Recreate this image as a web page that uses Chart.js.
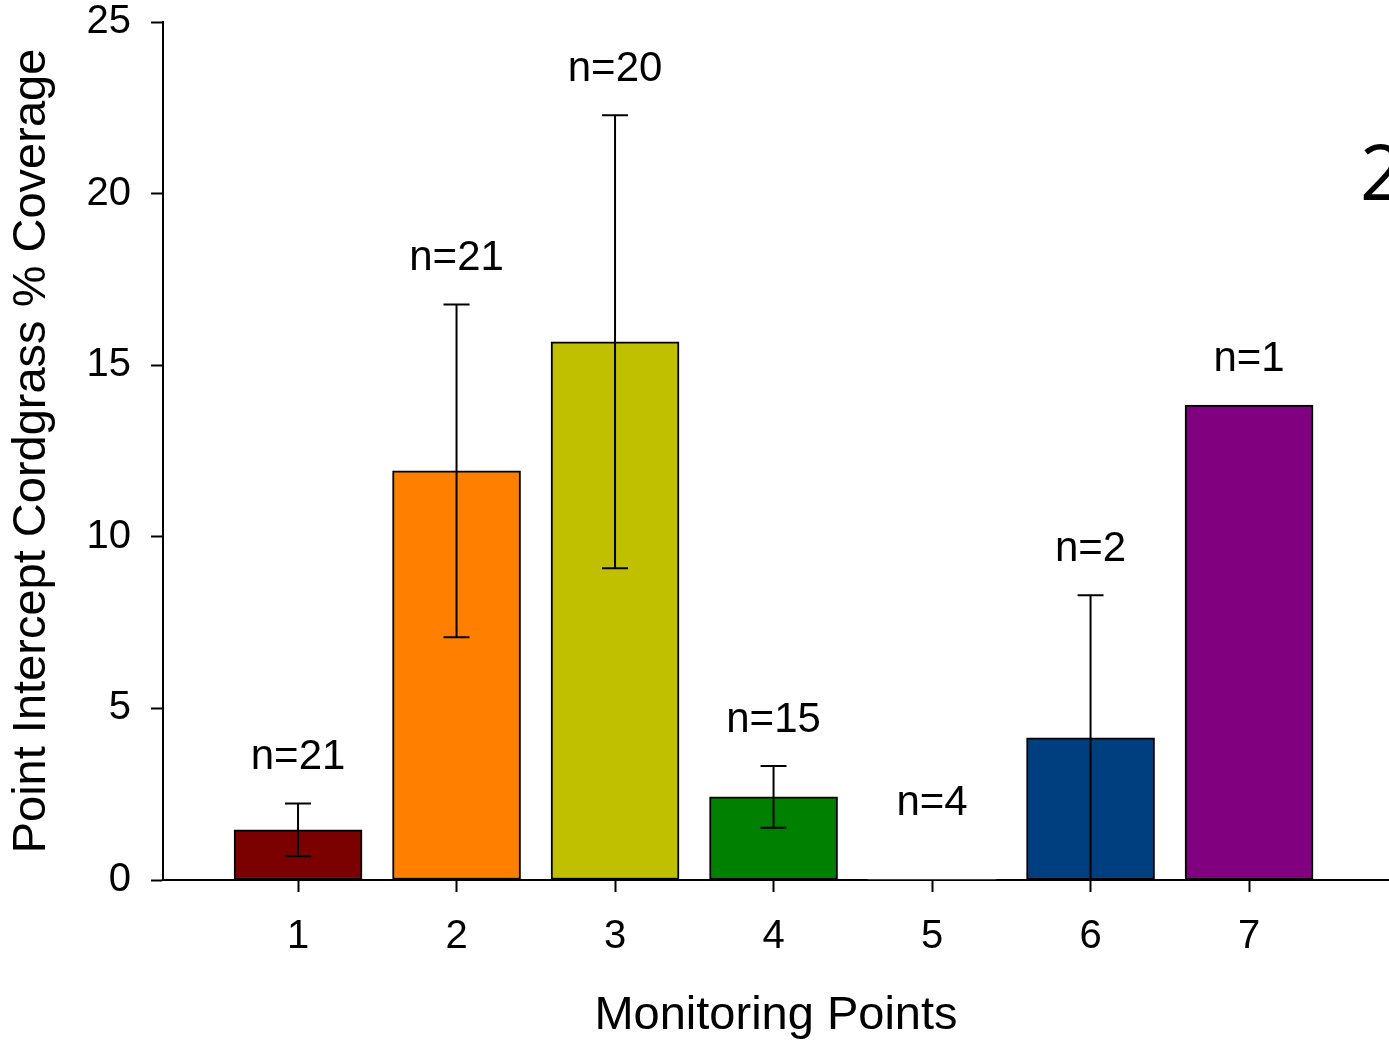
<!DOCTYPE html>
<html>
<head>
<meta charset="utf-8">
<script src="https://cdn.jsdelivr.net/npm/chart.js@4.4.1/dist/chart.umd.min.js"></script>
<style>
  html, body { margin: 0; padding: 0; background: #fff; overflow: hidden; }
  #wrap { position: relative; width: 1389px; height: 1045px; }
  #side { position: absolute; left: 1360px; top: 133px; font-family: "Open Sans", "Noto Sans", sans-serif; font-size: 76px; color: #000; line-height: 1; }
</style>
</head>
<body>
<div id="wrap">
  <canvas id="c" width="1389" height="1045"></canvas>
  <div id="side">2</div>
</div>
<script>
// ---- data ----
const categories = ["1", "2", "3", "4", "5", "6", "7"];
const meanCoverage = [1.46, 11.92, 15.68, 2.42, 0, 4.14, 13.84];
const stdError = [0.77, 4.85, 6.6, 0.9, null, 4.16, null];
const sampleLabels = ["n=21", "n=21", "n=20", "n=15", "n=4", "n=2", "n=1"];
const barColors = ["#7B0000", "#FF8000", "#C0C000", "#008000", "#FFFFFF", "#003F7F", "#800080"];
const yTicks = [0, 5, 10, 15, 20, 25];

const FONT = "'Liberation Sans', Arial, sans-serif";

const points = categories.map((c, i) => ({ x: i + 1, y: meanCoverage[i] }));

const errorBarPlugin = {
  id: 'errorBars',
  afterDatasetsDraw(chart) {
    const ctx = chart.ctx;
    const xs = chart.scales.x, ys = chart.scales.y;
    ctx.save();
    ctx.strokeStyle = '#000';
    ctx.lineWidth = 2;
    const cap = 13;
    categories.forEach((c, i) => {
      const e = stdError[i];
      const x = xs.getPixelForValue(i + 1);
      let top = meanCoverage[i];
      if (e != null) {
        const hi = meanCoverage[i] + e;
        const lo = Math.max(0, meanCoverage[i] - e);
        const yh = ys.getPixelForValue(hi), yl = ys.getPixelForValue(lo);
        ctx.beginPath();
        ctx.moveTo(x, yh); ctx.lineTo(x, yl);
        ctx.moveTo(x - cap, yh); ctx.lineTo(x + cap, yh);
        if (lo > 0) { ctx.moveTo(x - cap, yl); ctx.lineTo(x + cap, yl); }
        ctx.stroke();
        top = hi;
      }
      ctx.fillStyle = '#000';
      ctx.font = "42px " + FONT;
      ctx.textAlign = 'center';
      ctx.textBaseline = 'middle';
      const anchor = Math.max(top, 0.9);
      ctx.fillText(sampleLabels[i], x, ys.getPixelForValue(anchor) - 46);
    });
    ctx.restore();
  }
};

new Chart(document.getElementById('c'), {
  type: 'bar',
  data: {
    datasets: [{
      data: points,
      backgroundColor: barColors,
      borderColor: '#000',
      borderWidth: (ctx) => (meanCoverage[ctx.dataIndex] === 0 ? 0 : 2),
      borderSkipped: false,
      barThickness: 128
    }]
  },
  options: {
    responsive: false,
    animation: false,
    layout: { padding: { top: 0, left: 0, right: 0, bottom: 0 } },
    plugins: { legend: { display: false }, tooltip: { enabled: false } },
    scales: {
      x: {
        type: 'linear',
        offset: false,
        min: 0.148,
        max: 7.883,
        afterBuildTicks: (s) => { s.ticks = categories.map((c, i) => ({ value: i + 1 })); },
        afterFit: (s) => { s.height = 165; s.paddingLeft = 0; s.paddingRight = 0; },
        ticks: {
          color: '#000',
          font: { family: FONT, size: 40 },
          padding: 21,
          maxRotation: 0,
          callback: (v) => categories[v - 1]
        },
        grid: { offset: false, drawOnChartArea: false, drawTicks: true, tickLength: 12, tickColor: '#000', tickWidth: 2 },
        border: { display: true, color: '#000', width: 2 },
        title: {
          display: true,
          text: 'Monitoring Points',
          color: '#000',
          font: { family: FONT, size: 47 },
          padding: { top: 0, bottom: 1 }
        }
      },
      y: {
        min: 0,
        max: 25,
        afterBuildTicks: (s) => { s.ticks = yTicks.map(v => ({ value: v })); },
        afterFit: (s) => { s.width = 163; s.paddingTop = 22; s.paddingBottom = 0; },
        ticks: {
          color: '#000',
          font: { family: FONT, size: 40 },
          padding: 20
        },
        grid: { drawOnChartArea: false, drawTicks: true, tickLength: 12, tickColor: '#000', tickWidth: 2 },
        border: { display: true, color: '#000', width: 2 },
        title: {
          display: true,
          text: 'Point Intercept Cordgrass % Coverage',
          color: '#000',
          font: { family: FONT, size: 47 },
          padding: { top: 4, bottom: 0 }
        }
      }
    }
  },
  plugins: [errorBarPlugin]
});
</script>
</body>
</html>
